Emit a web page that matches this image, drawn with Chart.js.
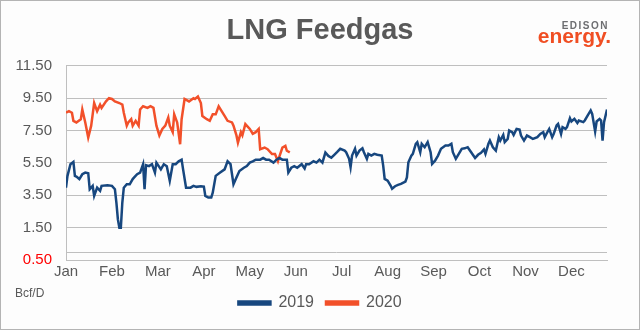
<!DOCTYPE html>
<html>
<head>
<meta charset="utf-8">
<script src="https://cdn.jsdelivr.net/npm/chart.js@4"></script>
<style>
  html, body { margin: 0; padding: 0; background: #fff; }
  #wrap { width: 640px; height: 330px; }
</style>
</head>
<body>
<div id="wrap"><canvas id="myChart" width="640" height="330"></canvas></div>
<script>
"use strict";

// month labels, ticks every 31 days on a day-of-year axis
const months = ['Jan', 'Feb', 'Mar', 'Apr', 'May', 'Jun', 'Jul', 'Aug', 'Sep', 'Oct', 'Nov', 'Dec'];
const yTicks = [-0.5, 1.5, 3.5, 5.5, 7.5, 9.5, 11.5];

// 2019 (day of year, Bcf/D)
const days2019 = [0, 1, 3, 5, 6, 7, 9, 11, 13, 15, 16, 18, 19, 21, 23, 24, 28, 31, 33, 34, 35, 36, 37, 38, 39, 41, 43, 45, 46, 48, 50, 52, 53, 54, 56, 58, 60, 61, 64, 66, 68, 70, 72, 74, 76, 78, 79, 81, 84, 86, 88, 91, 93, 94, 96, 98, 99, 101, 104, 107, 109, 111, 113, 115, 117, 120, 122, 124, 126, 128, 131, 133, 135, 137, 140, 142, 144, 146, 149, 150, 152, 154, 156, 159, 161, 162, 164, 167, 169, 171, 173, 175, 177, 179, 181, 183, 185, 188, 189, 191, 192, 193, 195, 196, 198, 200, 201, 203, 204, 206, 208, 210, 213, 214, 215, 217, 219, 220, 222, 224, 226, 229, 230, 231, 233, 234, 236, 237, 239, 240, 242, 244, 246, 247, 249, 251, 253, 256, 258, 260, 261, 263, 265, 267, 269, 271, 273, 276, 278, 280, 282, 283, 285, 286, 288, 290, 292, 293, 295, 296, 298, 299, 301, 302, 304, 306, 307, 309, 311, 313, 315, 318, 320, 322, 323, 325, 326, 328, 329, 331, 332, 334, 335, 337, 338, 340, 341, 343, 345, 346, 349, 350, 352, 354, 355, 357, 358, 360, 361, 362, 363, 365];
const values2019 = [3.97, 4.7, 5.42, 5.56, 4.7, 4.65, 4.5, 4.8, 4.9, 4.86, 3.87, 4.08, 3.46, 3.97, 3.77, 4.08, 4.12, 4.08, 3.87, 3.05, 2.02, 1.5, 1.5, 3.05, 3.97, 4.18, 4.18, 4.5, 4.6, 4.8, 4.9, 5.42, 3.87, 5.36, 5.3, 5.42, 4.9, 5.52, 5.1, 5.42, 5.3, 4.39, 5.42, 5.42, 5.6, 5.7, 5.1, 3.97, 3.97, 4.08, 4.02, 4.06, 4.04, 3.46, 3.36, 3.36, 3.66, 4.7, 4.9, 5.1, 5.6, 5.42, 4.18, 4.6, 5.0, 5.2, 5.3, 5.52, 5.6, 5.7, 5.7, 5.8, 5.7, 5.7, 5.52, 5.7, 5.8, 5.7, 5.7, 4.9, 5.2, 5.3, 5.2, 5.42, 5.15, 5.42, 5.42, 5.6, 5.52, 5.7, 5.52, 6.14, 5.93, 5.82, 6.0, 6.18, 6.37, 6.26, 6.16, 5.75, 5.23, 5.95, 6.37, 5.95, 6.26, 6.4, 6.16, 5.75, 6.06, 5.95, 6.06, 6.0, 5.95, 5.33, 4.51, 4.4, 4.1, 3.9, 4.06, 4.14, 4.2, 4.35, 4.6, 5.54, 5.95, 6.06, 6.68, 6.78, 6.16, 6.68, 6.47, 6.78, 6.16, 5.44, 5.64, 5.95, 6.37, 6.57, 6.57, 6.68, 6.16, 5.75, 6.06, 6.37, 6.4, 6.47, 6.2, 5.8, 6.0, 6.12, 6.33, 6.06, 6.68, 6.88, 6.47, 6.26, 7.09, 6.88, 7.23, 6.78, 6.98, 7.5, 7.4, 7.23, 7.6, 7.56, 7.19, 6.88, 7.19, 7.09, 6.98, 7.09, 7.29, 7.4, 7.09, 7.44, 7.6, 7.09, 7.29, 7.81, 7.91, 7.29, 7.71, 7.6, 7.71, 8.26, 8.06, 8.22, 7.97, 8.12, 8.02, 8.12, 8.43, 8.74, 8.53, 7.44, 8.06, 8.22, 8.12, 6.88, 8.02, 8.8];

// 2020 (day of year, Bcf/D)
const days2020 = [0, 2, 4, 5, 7, 10, 11, 13, 15, 17, 19, 21, 23, 24, 27, 29, 31, 33, 36, 38, 39, 41, 42, 44, 45, 47, 49, 50, 52, 55, 57, 59, 61, 63, 65, 67, 69, 70, 72, 73, 75, 77, 78, 80, 83, 86, 87, 89, 91, 92, 95, 97, 99, 101, 103, 105, 107, 109, 112, 113, 115, 116, 118, 119, 121, 124, 126, 128, 130, 131, 134, 136, 139, 141, 143, 144, 146, 148, 149, 151];
const values2020 = [8.6, 8.7, 8.6, 8.1, 8.0, 8.2, 8.8, 8.0, 7.07, 7.8, 9.2, 8.7, 9.1, 8.9, 9.3, 9.5, 9.45, 9.3, 9.2, 9.1, 8.6, 7.8, 8.0, 8.2, 7.8, 8.1, 7.8, 8.8, 9.0, 8.9, 9.0, 8.9, 7.8, 7.2, 7.6, 7.8, 8.3, 7.8, 7.4, 8.5, 8.0, 6.65, 8.2, 9.45, 9.3, 9.5, 9.45, 9.6, 9.2, 8.4, 8.2, 8.1, 8.5, 8.5, 9.0, 8.7, 8.4, 8.1, 8.0, 7.8, 7.2, 6.75, 7.4, 7.2, 7.9, 7.6, 7.3, 7.4, 7.6, 6.35, 6.45, 6.35, 6.05, 6.05, 5.6, 5.9, 6.45, 6.55, 6.25, 6.15];

const ctx = document.getElementById('myChart');
const font = 'Liberation Sans, Arial, sans-serif';
const grey = '#595959';
const blue = '#17477f';
const orange = '#f2502a';

const frame = {
    id: 'frame',
    beforeDraw(chart) {
        const c = chart.ctx;
        c.save();
        c.fillStyle = '#fdfdfd';
        c.fillRect(0, 0, chart.width, chart.height);
        c.strokeStyle = '#b4b4b4';
        c.lineWidth = 1;
        c.strokeRect(0.5, 0.5, chart.width - 1, chart.height - 1);
        c.restore();
    },
    beforeDatasetsDraw(chart) {
        // extra grey line at zero
        const c = chart.ctx;
        const y = Math.round(chart.scales.y.getPixelForValue(0)) + 0.5;
        c.save();
        c.strokeStyle = '#bfbfbf';
        c.lineWidth = 1;
        c.beginPath();
        c.moveTo(chart.chartArea.left, y);
        c.lineTo(chart.chartArea.right, y);
        c.stroke();
        c.restore();
    },
    afterDraw(chart) {
        const c = chart.ctx;
        c.save();
        // logo
        c.textAlign = 'right';
        c.textBaseline = 'alphabetic';
        c.fillStyle = '#6d6e71';
        c.font = 'bold 10px ' + font;
        c.letterSpacing = '1.5px';
        c.fillText('EDISON', 609, 29);
        c.letterSpacing = '0px';
        c.fillStyle = '#f04e23';
        c.font = 'bold 21px ' + font;
        c.fillText('energy.', 611, 43);
        // unit
        c.textAlign = 'left';
        c.fillStyle = grey;
        c.font = '12px ' + font;
        c.fillText('Bcf/D', 15, 297);
        c.restore();
    }
};

new Chart(ctx, {
    type: 'line',
    data: {
        datasets: [{
            label: '2019',
            data: days2019.map((d, i) => ({ x: d, y: values2019[i] })),
            borderColor: blue,
            backgroundColor: blue,
            borderWidth: 2.5,
            pointRadius: 0,
            tension: 0
        }, {
            label: '2020',
            data: days2020.map((d, i) => ({ x: d, y: values2020[i] })),
            borderColor: orange,
            backgroundColor: orange,
            borderWidth: 2.5,
            pointRadius: 0,
            tension: 0
        }]
    },
    options: {
        responsive: false,
        animation: false,
        layout: { padding: { left: 0, right: 0, top: 0, bottom: 9 } },
        plugins: {
            title: {
                display: true,
                text: 'LNG Feedgas',
                color: grey,
                font: { family: font, size: 29, weight: 'bold' },
                padding: { top: 14, bottom: 17 }
            },
            legend: {
                position: 'bottom',
                labels: {
                    boxWidth: 32,
                    boxHeight: 3,
                    color: grey,
                    padding: 12,
                    font: { family: font, size: 16 }
                }
            },
            tooltip: { enabled: false }
        },
        scales: {
            x: {
                type: 'linear',
                min: 0,
                max: 365,
                afterBuildTicks: axis => { axis.ticks = months.map((m, i) => ({ value: i * 31 })); },
                afterFit: s => { s.height = 23; },
                ticks: {
                    autoSkip: false,
                    maxRotation: 0,
                    padding: 3,
                    color: grey,
                    font: { family: font, size: 15 },
                    callback: v => months[Math.round(v / 31)]
                },
                grid: { display: false, drawTicks: false },
                border: { color: '#bfbfbf' }
            },
            y: {
                min: -0.5,
                max: 11.5,
                afterBuildTicks: axis => { axis.ticks = yTicks.map(v => ({ value: v })); },
                afterFit: s => { s.width = 66; },
                ticks: {
                    autoSkip: false,
                    padding: 14,
                    font: { family: font, size: 15 },
                    color: c => c.tick && c.tick.value === -0.5 ? '#ff0000' : grey,
                    callback: v => v === -0.5 ? '0.50' : v.toFixed(2)
                },
                grid: { color: '#bfbfbf', drawTicks: false },
                border: { color: '#bfbfbf' }
            },
            // empty right-hand margin so title and legend centre on the canvas
            right: {
                position: 'right',
                display: true,
                afterFit: s => { s.width = 33; },
                ticks: { display: false },
                grid: { display: false, drawTicks: false },
                border: { display: false }
            }
        }
    },
    plugins: [frame]
});
</script>
</body>
</html>
